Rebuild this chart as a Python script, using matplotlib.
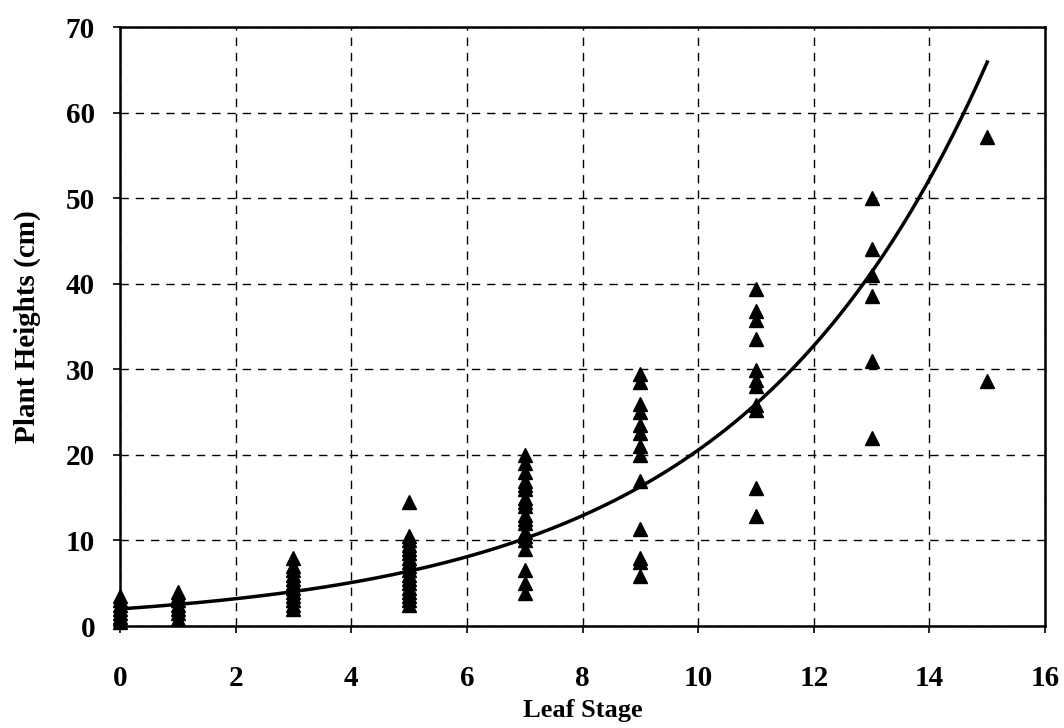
import matplotlib
matplotlib.use("Agg")
import matplotlib.pyplot as plt
import numpy as np

plt.rcParams['font.family'] = ['Liberation Serif', 'DejaVu Serif']

h0 = [0.5, 1.0, 1.5, 2.0, 2.5, 3.0, 3.5]
h1 = [0.8, 1.5, 2.0, 2.5, 3.0, 3.5, 4.0]
h3 = [2.0, 2.5, 3.0, 3.5, 4.0, 4.5, 5.0, 5.5, 6.0, 6.5, 7.0, 8.0]
h5 = [14.5, 10.5, 10.0, 9.5, 9.0, 8.5, 8.0, 7.5, 7.0, 6.5, 6.0, 5.5, 5.0,
      4.5, 4.0, 3.5, 3.0, 2.5]
h7 = [20.0, 19.0, 18.0, 17.0, 16.5, 16.0, 15.0, 14.5, 14.0, 13.0, 12.5,
      12.0, 11.0, 10.5, 10.0, 9.0, 6.5, 5.0, 3.8]
h9 = [29.5, 28.5, 26.0, 25.0, 23.5, 22.5, 21.0, 20.0, 17.0, 11.3, 8.0, 7.5, 5.8]
h11 = [39.4, 36.8, 35.8, 33.5, 29.9, 28.7, 28.0, 25.8, 25.3, 16.1, 12.8]
h13 = [50.0, 44.0, 41.0, 38.6, 31.0, 22.0]
h15 = [57.2, 28.6]

stages = [0, 1, 3, 5, 7, 9, 11, 13, 15]
heights = [h0, h1, h3, h5, h7, h9, h11, h13, h15]

# exponential trendline y = a*exp(b*x)
trend_a = 2.0
trend_b = 0.233

fig = plt.figure(figsize=(10.64, 7.28), dpi=100)
ax = fig.add_axes([0.1128, 0.1401, 0.8694, 0.8228])

xs = []
ys = []
for s, hs in zip(stages, heights):
    xs += [s] * len(hs)
    ys += hs
ax.plot(xs, ys, linestyle='none', marker='^', color='black', ms=10,
        zorder=3, clip_on=False)

xt = np.linspace(0, 15, 200)
ax.plot(xt, trend_a * np.exp(trend_b * xt), color='black', lw=2.5, zorder=4)

ax.set_xlim(0, 16)
ax.set_ylim(0, 70)
ax.set_xticks(range(0, 17, 2))
ax.set_yticks(range(0, 71, 10))
ax.grid(True, color='black', linestyle=(0, (6, 5)), lw=1)
ax.set_axisbelow(True)
for sp in ax.spines.values():
    sp.set_linewidth(1.8)
ax.tick_params(labelsize=21, direction='out', length=5, width=1.2)
ax.tick_params(axis='x', pad=23)
ax.tick_params(axis='y', pad=13)
for lb in ax.get_xticklabels() + ax.get_yticklabels():
    lb.set_fontweight('bold')
ax.set_xlabel('Leaf Stage', fontsize=19, fontweight='bold', labelpad=5)
ax.set_ylabel('Plant Heights (cm)', fontsize=21, fontweight='bold', labelpad=18)

fig.savefig('out.png', dpi=100)
